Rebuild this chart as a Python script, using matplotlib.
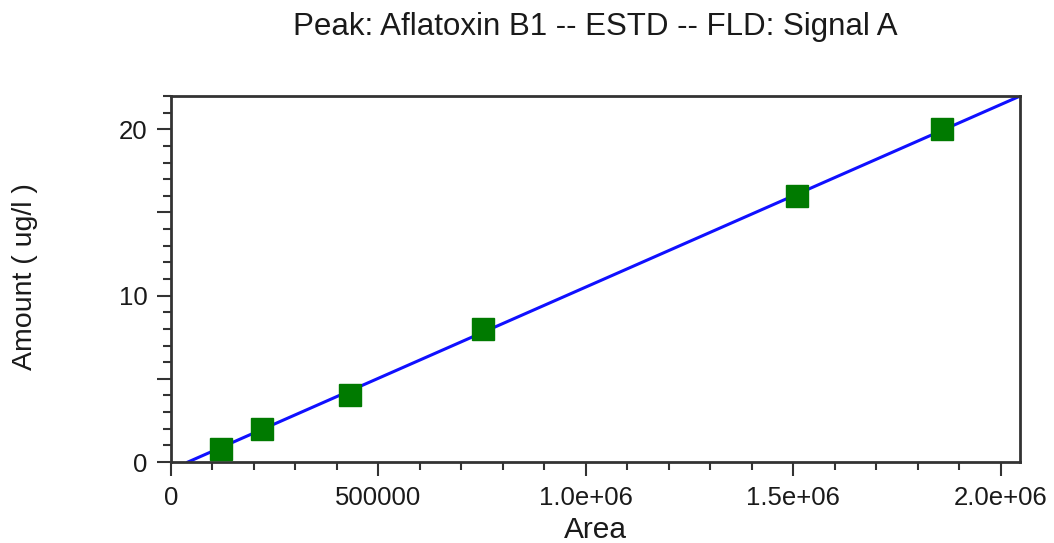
import numpy as np
import matplotlib
matplotlib.use("Agg")
import matplotlib.pyplot as plt
from matplotlib.ticker import MultipleLocator, FuncFormatter

plt.rcParams['font.family'] = ['Liberation Sans', 'DejaVu Sans']

# calibration levels (area vs amount)
area = [120000, 219000, 431000, 752000, 1508000, 1858000]
amount = [0.8, 2.0, 4.0, 8.0, 16.0, 20.0]

# calibration curve
slope = 1.097e-5
intercept = -0.45

fig = plt.figure(figsize=(10.54, 5.43), dpi=100)
ax = fig.add_axes([171/1054, 1 - 462/543, (1020-171)/1054, (462-96)/543])

xmax = 2.046e6
ymax = 22.0
xline = np.array([-intercept / slope, xmax])
ax.plot(xline, slope * xline + intercept, color='#1010ff', lw=2.2, zorder=2)
ax.plot(area, amount, 's', color='#007a00', markersize=16.5, zorder=3)

ax.set_xlim(0, xmax)
ax.set_ylim(0, ymax)

ax.xaxis.set_major_locator(MultipleLocator(500000))
ax.xaxis.set_minor_locator(MultipleLocator(100000))
ax.yaxis.set_major_locator(MultipleLocator(5))
ax.yaxis.set_minor_locator(MultipleLocator(1))

def xfmt(v, pos):
    if v == 0:
        return '0'
    if v < 1e6:
        return '%d' % v
    return '%.1fe+06' % (v / 1e6)

def yfmt(v, pos):
    return '%d' % v if int(round(v)) % 10 == 0 else ''

ax.xaxis.set_major_formatter(FuncFormatter(xfmt))
ax.yaxis.set_major_formatter(FuncFormatter(yfmt))

ax.tick_params(which='major', length=10, width=1.5, color='#333333', labelsize=18.5,
               labelcolor='#1a1a1a', pad=7)
ax.tick_params(which='minor', length=6, width=1.5, color='#333333')
for s in ax.spines.values():
    s.set_color('#333333')
    s.set_linewidth(2)

fig.text(595/1054, 1 - 530/543, 'Area', fontsize=21.5, ha='center', va='center', color='#1a1a1a')
fig.text(25/1054, 1 - 277/543, 'Amount ( ug/l )', fontsize=20.5, rotation=90,
         ha='center', va='center', color='#1a1a1a')
fig.text(595/1054, 1 - 27/543, 'Peak: Aflatoxin B1 -- ESTD -- FLD: Signal A',
         fontsize=22.5, ha='center', va='center', color='#1a1a1a')

fig.savefig('out.png', dpi=100)
